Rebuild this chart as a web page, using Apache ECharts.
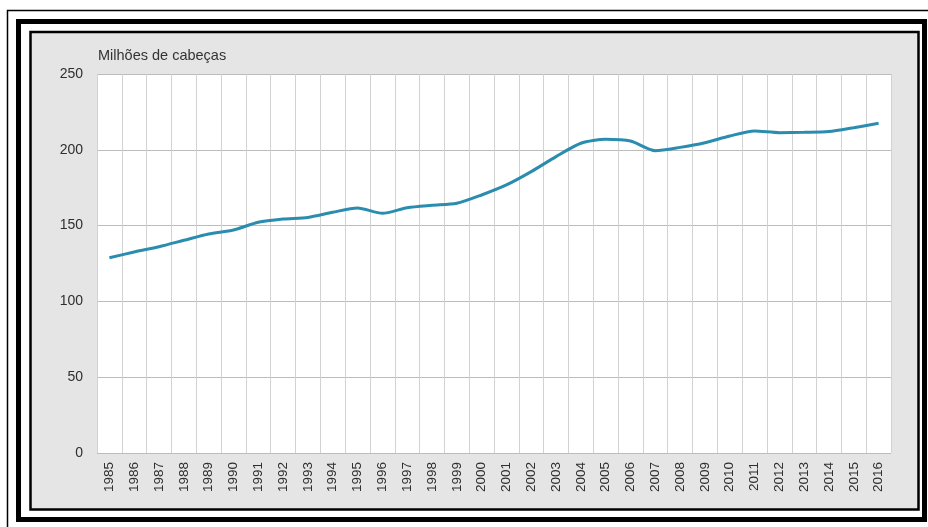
<!DOCTYPE html>
<html>
<head>
<meta charset="utf-8">
<script src="https://cdn.jsdelivr.net/npm/echarts@6/dist/echarts.min.js"></script>
<style>
html,body{margin:0;padding:0;background:#fff;}
#c{width:928px;height:527px;}
</style>
</head>
<body>
<div id="c"></div>
<script>
const years = ['1985','1986','1987','1988','1989','1990','1991','1992','1993','1994','1995','1996','1997','1998','1999','2000','2001','2002','2003','2004','2005','2006','2007','2008','2009','2010','2011','2012','2013','2014','2015','2016'];
const herd = [128.8,132.6,136.1,140.3,144.5,147.1,152.2,154.3,155.4,158.8,161.6,158.1,161.8,163.4,164.7,170.2,176.8,185.6,195.5,204.3,206.9,205.8,199.4,201.6,204.7,209.1,212.4,211.3,211.5,212.0,214.6,217.5];
const yTicks = [0,50,100,150,200,250];
const unitLabel = 'Milhões de cabeças';

const chart = echarts.init(document.getElementById('c'));
chart.setOption({
  animation: false,
  backgroundColor: '#fff',
  graphic: [
    {type:'rect', z:-10, shape:{x:7.5,y:10.5,width:940,height:540}, style:{fill:'none',stroke:'#000',lineWidth:1.5}},
    {type:'rect', z:-10, shape:{x:18.5,y:21.5,width:906,height:498}, style:{fill:'#fff',stroke:'#000',lineWidth:5}},
    {type:'rect', z:-10, shape:{x:30.5,y:32,width:888,height:477.5}, style:{fill:'#e5e5e5',stroke:'#000',lineWidth:2.5}}
  ],
  title: {
    text: unitLabel, left: 93, top: 43,
    textStyle: {fontFamily:'Liberation Sans, Arial, sans-serif', fontSize:14.5, fontWeight:'normal', color:'#333'}
  },
  grid: {left:97, right:37, top:74, bottom:74, show:true, backgroundColor:'#fff', borderWidth:0},
  xAxis: {
    type:'category', data: years, boundaryGap:true,
    axisLine:{show:false}, axisTick:{show:false},
    axisLabel:{rotate:90, interval:0, margin:9, color:'#2e2e2e', fontSize:13.5, fontFamily:'Liberation Sans, Arial, sans-serif'},
    splitLine:{show:true, interval:0, lineStyle:{color:'#d2d2d2', width:1}}
  },
  yAxis: {
    type:'value', min:yTicks[0], max:yTicks[yTicks.length-1], interval:50,
    axisLine:{show:false}, axisTick:{show:false},
    axisLabel:{margin:14, color:'#2e2e2e', fontSize:14, fontFamily:'Liberation Sans, Arial, sans-serif'},
    splitLine:{show:true, lineStyle:{color:'#bcbcbc', width:1}}
  },
  series: [{
    type:'line', data: herd, smooth:0.25, symbol:'none',
    lineStyle:{color:'#2a8cae', width:3}
  }]
});
</script>
</body>
</html>
